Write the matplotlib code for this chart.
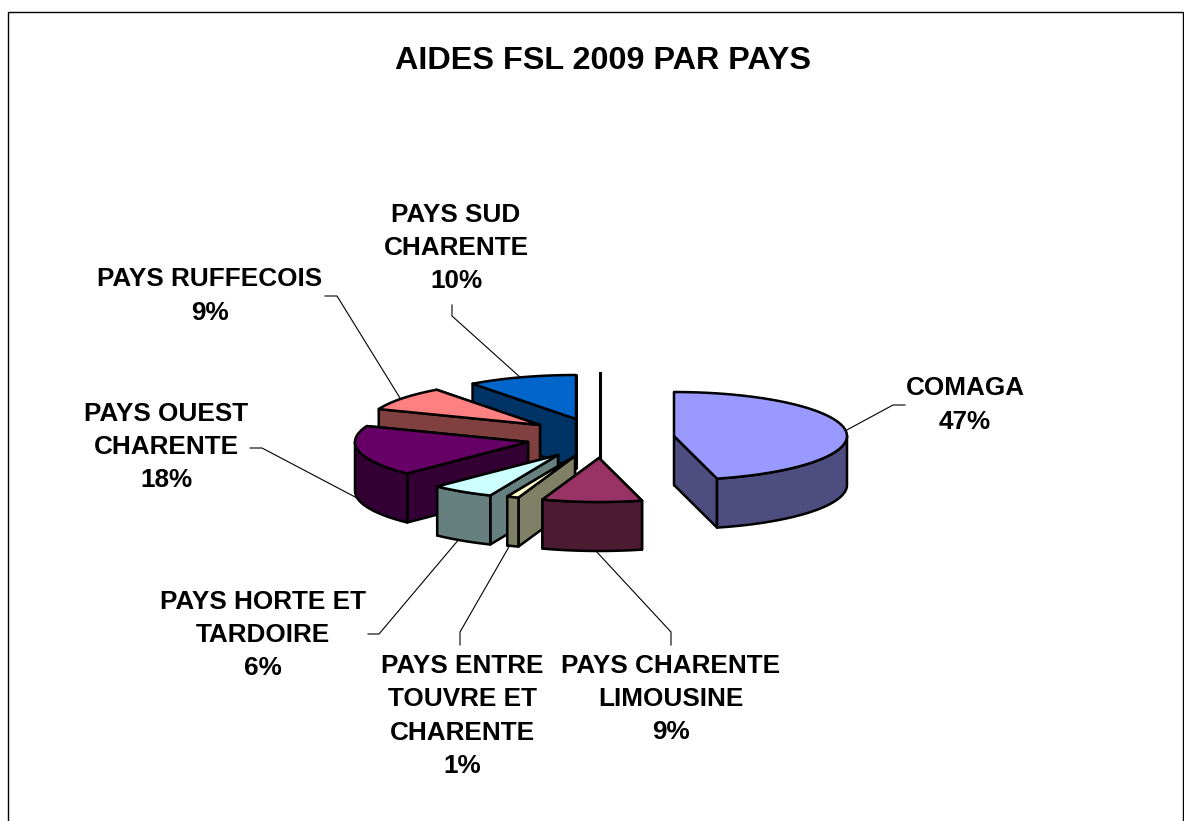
import numpy as np
from matplotlib import pyplot as plt
from matplotlib.patches import Polygon, Rectangle

# data
names = ['COMAGA', 'PAYS CHARENTE\nLIMOUSINE', 'PAYS ENTRE\nTOUVRE ET\nCHARENTE', 'PAYS HORTE ET\nTARDOIRE',
         'PAYS OUEST\nCHARENTE', 'PAYS RUFFECOIS', 'PAYS SUD\nCHARENTE']
percents = [47, 9, 1, 6, 18, 9, 10]
shares = [46.0, 9.3, 1.1, 5.9, 18.6, 8.9, 10.2]  # slice sizes as drawn in the picture
title = 'AIDES FSL 2009 PAR PAYS'

# colours
tops = ['#9999FF', '#993366', '#FFFFCC', '#CCFFFF', '#660066', '#FF8080', '#0066CC']
sides = ['#4D4D80', '#4D1A33', '#808066', '#668080', '#330033', '#804040', '#003366']

# layout, in pixels: apex of each exploded slice, label centres, leader lines
apex = [(674, 436), (599, 458), (575, 456), (558, 455), (528, 442), (540, 425), (576, 419)]
label_xy = [(965, 405), (671, 699), (462, 716), (263, 635), (166, 447), (210, 296), (456, 248)]
leaders = [[(845, 431), (893, 405), (905, 405)],
           [(595, 550), (671, 632), (671, 645)],
           [(510, 545), (460, 632), (460, 645)],
           [(460, 538), (379, 634), (368, 634)],
           [(357, 498), (262, 448), (250, 448)],
           [(400, 398), (337, 296), (325, 296)],
           [(521, 378), (452, 316), (452, 305)]]
XR, YR, DEPTH = 173, 44, 49
EDGE = 1.8


def arc(c, t0, t1):
    t = np.radians(np.linspace(t0, t1, 60))
    return np.c_[c[0] + XR * np.sin(t), c[1] - YR * np.cos(t)]


def face(ax, pts, color, z):
    ax.add_patch(Polygon(pts, closed=True, fc=color, ec='k', lw=EDGE, joinstyle='round', zorder=z))


def extrude(pts):
    pts = np.asarray(pts, dtype=float)
    return np.vstack([pts, pts[::-1] + [0, DEPTH]])


fig = plt.figure(figsize=(11.84, 8.21), dpi=100)
ax = fig.add_axes([0, 0, 1, 1])
ax.set_xlim(0, 1184)
ax.set_ylim(821, 0)
ax.axis('off')

ax.add_patch(Rectangle((8, 12), 1175, 830, fc='white', ec='k', lw=1))

edges = np.r_[0, np.cumsum(shares)] / np.sum(shares) * 360

# back to front, the big slice last
z = 2
for i in [6, 5, 4, 3, 2, 1, 0]:
    c = apex[i]
    t0, t1 = edges[i], edges[i + 1]
    rim = arc(c, t0, t1)

    walls = [np.array([c, rim[0]]), np.array([c, rim[-1]])]
    walls.sort(key=lambda w: w[:, 1].mean())
    for w in walls:
        face(ax, extrude(w), sides[i], z)
        z += 1

    w0, w1 = max(t0, 90), min(t1, 270)
    if w1 > w0:
        face(ax, extrude(arc(c, w0, w1)), sides[i], z)
        z += 1

    face(ax, np.vstack([[c], rim]), tops[i], z)
    z += 1

# edge of the limousine slice sticking up behind it
ax.plot([600, 600], [373, 458], color='k', lw=2.2, zorder=z)

for pts in leaders:
    xs, ys = zip(*pts)
    ax.plot(xs, ys, color='k', lw=0.8, zorder=1)

for name, p, (x, y) in zip(names, percents, label_xy):
    ax.text(x, y, '%s\n%d%%' % (name, p), ha='center', va='center', family='Liberation Sans',
            weight='bold', fontsize=18.8, linespacing=1.48, zorder=z + 1)

ax.text(603, 61, title, ha='center', va='center', family='Liberation Sans', weight='bold', fontsize=23.3)

fig.savefig('out.png', dpi=100)
